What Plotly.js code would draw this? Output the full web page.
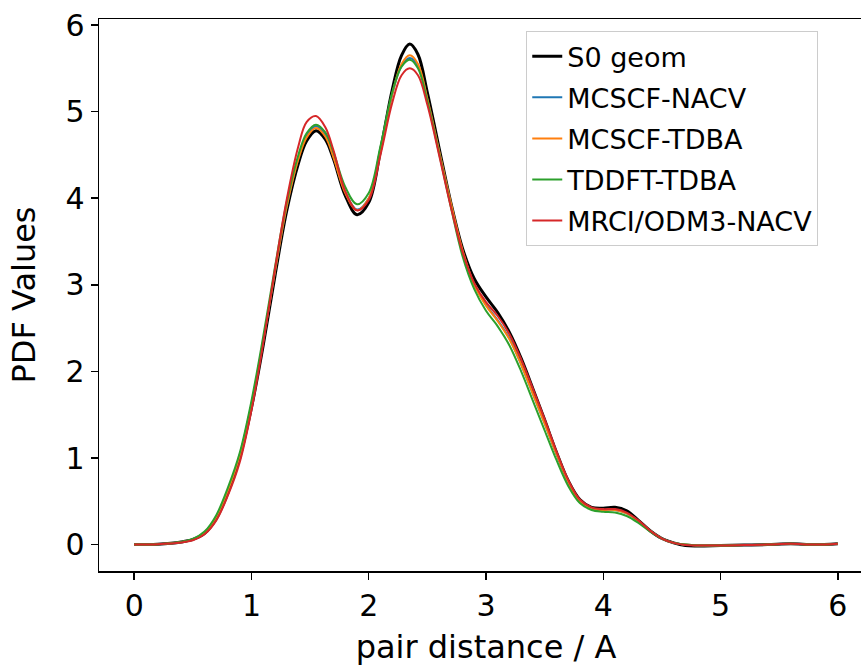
<!DOCTYPE html>
<html>
<head>
<meta charset="utf-8">
<script src="https://cdn.plot.ly/plotly-3.0.1.min.js"></script>
<style>
html, body { margin: 0; padding: 0; overflow: hidden; background: #fff; }
#chart { width: 900px; height: 666px; }
</style>
</head>
<body>
<div id="chart"></div>
<script>
const xs = [0, 0.2, 0.4, 0.5, 0.6, 0.7, 0.8, 0.9, 1.0, 1.1, 1.2, 1.3, 1.4, 1.47, 1.55, 1.63, 1.7, 1.8, 1.9,
  2.0, 2.1, 2.2, 2.28, 2.35, 2.42, 2.5, 2.6, 2.7, 2.8, 2.9, 3.0, 3.1, 3.2, 3.3, 3.4, 3.5, 3.6, 3.7, 3.8, 3.9,
  4.0, 4.1, 4.2, 4.3, 4.4, 4.5, 4.6, 4.7, 4.8, 5.0, 5.2, 5.4, 5.6, 5.8, 6.0];

const s0Geom = [0.0, 0.005, 0.03, 0.06, 0.13, 0.3, 0.6, 1.0, 1.58, 2.3, 3.1, 3.85, 4.4, 4.66, 4.78, 4.68, 4.45, 4.03, 3.81,
  3.95, 4.55, 5.25, 5.65, 5.78, 5.66, 5.22, 4.58, 3.95, 3.42, 3.07, 2.86, 2.68, 2.45, 2.15, 1.8, 1.44, 1.07, 0.74, 0.52, 0.43,
  0.42, 0.43, 0.39, 0.28, 0.16, 0.07, 0.02, -0.01, -0.015, -0.01, -0.005, 0.0, 0.01, 0.0, 0.01];

const mcscfNacv = [0.0, 0.005, 0.03, 0.06, 0.14, 0.32, 0.63, 1.03, 1.62, 2.35, 3.15, 3.9, 4.46, 4.72, 4.83, 4.73, 4.48, 4.07, 3.87,
  4.0, 4.55, 5.2, 5.53, 5.62, 5.53, 5.14, 4.54, 3.94, 3.39, 3.0, 2.77, 2.59, 2.38, 2.08, 1.74, 1.4, 1.05, 0.73, 0.5, 0.41,
  0.4, 0.4, 0.36, 0.27, 0.16, 0.07, 0.02, 0.0, -0.01, -0.01, -0.005, 0.0, 0.01, 0.0, 0.01];

const mcscfTdba = [0.0, 0.005, 0.03, 0.06, 0.14, 0.32, 0.63, 1.03, 1.62, 2.35, 3.15, 3.9, 4.45, 4.7, 4.81, 4.71, 4.47, 4.06, 3.86,
  4.0, 4.55, 5.2, 5.55, 5.65, 5.55, 5.15, 4.55, 3.95, 3.4, 3.0, 2.76, 2.58, 2.37, 2.08, 1.74, 1.4, 1.05, 0.73, 0.5, 0.41,
  0.4, 0.4, 0.36, 0.27, 0.16, 0.07, 0.02, 0.0, -0.01, -0.01, -0.005, 0.0, 0.01, 0.0, 0.01];

const tddftTdba = [0.0, 0.005, 0.03, 0.065, 0.15, 0.34, 0.66, 1.06, 1.66, 2.4, 3.2, 3.95, 4.5, 4.75, 4.85, 4.76, 4.53, 4.13, 3.93,
  4.06, 4.6, 5.22, 5.52, 5.6, 5.5, 5.12, 4.52, 3.9, 3.33, 2.95, 2.7, 2.52, 2.3, 2.0, 1.66, 1.32, 0.98, 0.68, 0.48, 0.4,
  0.38, 0.37, 0.33, 0.25, 0.15, 0.07, 0.02, 0.0, -0.01, -0.01, -0.005, 0.0, 0.01, 0.0, 0.01];

const mrciOdm3Nacv = [0.0, 0.005, 0.025, 0.05, 0.12, 0.28, 0.57, 0.95, 1.55, 2.32, 3.18, 3.98, 4.6, 4.88, 4.95, 4.82, 4.55, 4.08, 3.86,
  3.98, 4.5, 5.1, 5.42, 5.5, 5.42, 5.08, 4.5, 3.9, 3.38, 3.02, 2.8, 2.64, 2.43, 2.14, 1.8, 1.45, 1.08, 0.75, 0.52, 0.43,
  0.41, 0.41, 0.37, 0.28, 0.16, 0.07, 0.02, -0.005, -0.01, -0.01, -0.005, 0.0, 0.01, 0.0, 0.01];

const seriesNames = ['S0 geom', 'MCSCF-NACV', 'MCSCF-TDBA', 'TDDFT-TDBA', 'MRCI/ODM3-NACV'];
const seriesValues = [s0Geom, mcscfNacv, mcscfTdba, tddftTdba, mrciOdm3Nacv];
const seriesColors = ['#000000', '#1f77b4', '#ff7f0e', '#2ca02c', '#d62728'];
const seriesWidths = [3, 2, 2, 2, 2];

const xTickVals = [0, 1, 2, 3, 4, 5, 6];
const yTickVals = [0, 1, 2, 3, 4, 5, 6];

const FONT = 'DejaVu Sans, sans-serif';

const traces = seriesNames.map((name, i) => ({
  type: 'scatter',
  mode: 'lines',
  name: name,
  legendgroup: 'g' + i,
  x: xs,
  y: seriesValues[i],
  line: { color: seriesColors[i], width: seriesWidths[i], shape: 'spline', smoothing: 1 },
  hoverinfo: 'skip'
}));

const layout = {
  width: 900,
  height: 666,
  margin: { l: 99, r: 27, t: 19, b: 95 },
  paper_bgcolor: '#ffffff',
  plot_bgcolor: '#ffffff',
  font: { family: FONT, color: '#000000' },
  showlegend: true,
  xaxis: {
    range: [-0.3, 6.3],
    tickvals: xTickVals,
    ticktext: xTickVals.map(String),
    ticks: 'outside',
    ticklen: 7,
    tickwidth: 1.5,
    tickcolor: '#000000',
    showgrid: false,
    zeroline: false,
    showline: true,
    linecolor: '#000000',
    linewidth: 1.5,
    mirror: true,
    tickfont: { family: FONT, size: 30, color: '#000000' },
    title: { text: 'pair distance / A', font: { family: FONT, size: 32, color: '#000000' }, standoff: 15 },
    automargin: false
  },
  yaxis: {
    range: [-0.305, 6.07],
    tickvals: yTickVals,
    ticktext: yTickVals.map(String),
    ticks: 'outside',
    ticklen: 7,
    tickwidth: 1.5,
    tickcolor: '#000000',
    showgrid: false,
    zeroline: false,
    showline: true,
    linecolor: '#000000',
    linewidth: 1.5,
    mirror: true,
    tickfont: { family: FONT, size: 30, color: '#000000' },
    title: { text: 'PDF Values', font: { family: FONT, size: 32, color: '#000000' }, standoff: 20 },
    automargin: false
  },
  legend: {
    x: 0.552,
    y: 0.978,
    xanchor: 'left',
    yanchor: 'top',
    bgcolor: 'rgba(255,255,255,0.85)',
    bordercolor: '#cccccc',
    borderwidth: 1,
    font: { family: FONT, size: 27, color: '#000000' },
    tracegroupgap: 3
  }
};

Plotly.newPlot('chart', traces, layout, { displayModeBar: false, staticPlot: true });
</script>
</body>
</html>
